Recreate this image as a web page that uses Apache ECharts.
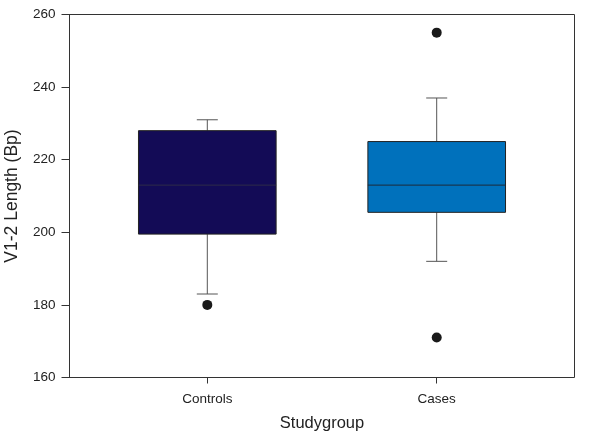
<!DOCTYPE html>
<html><head><meta charset="utf-8">
<script src="https://cdn.jsdelivr.net/npm/echarts@6/dist/echarts.min.js"></script>
<style>html,body{margin:0;padding:0;background:#fff}#c{width:600px;height:440px}</style>
</head><body><div id="c"></div>
<script>
var categories = ['Controls', 'Cases'];
// [low whisker, Q1, median, Q3, high whisker]
var controlsBox = [183, 199.5, 213, 228, 231];
var casesBox = [192, 205.5, 213, 225, 237];
var controlsOutliers = [180];
var casesOutliers = [255, 171];
var yTicks = [160, 180, 200, 220, 240, 260];
var boxColors = ['#130b56', '#0071bc'];
var medianColors = ['#2e2c48', '#1c2a3a'];

var boxes = [controlsBox, casesBox];
var boxData = boxes.map(function (b, i) { return [i].concat(b); });
var outlierData = [];
controlsOutliers.forEach(function (v) { outlierData.push([0, v]); });
casesOutliers.forEach(function (v) { outlierData.push([1, v]); });

var font = 'Liberation Sans, Arial, sans-serif';
var chart = echarts.init(document.getElementById('c'), null, {renderer: 'canvas'});
chart.setOption({
  animation: false,
  backgroundColor: '#fff',
  grid: [
    {left: 69.5, right: 25.5, top: 14.5, bottom: 62.5, show: true, borderColor: '#333', borderWidth: 1,
     backgroundColor: 'transparent', containLabel: false, outerBoundsMode: 'none'},
    {left: 92.6, right: 48.6, top: 14.5, bottom: 62.5, containLabel: false, outerBoundsMode: 'none'}
  ],
  xAxis: [
    {gridIndex: 0, type: 'value', min: 0, max: 1, show: false},
    {gridIndex: 1, type: 'category', data: categories, boundaryGap: true,
     axisLine: {show: false},
     axisTick: {show: true, alignWithLabel: true, length: 6, lineStyle: {color: '#333'}},
     axisLabel: {color: '#222', fontSize: 13.5, fontFamily: font, margin: 15},
     name: 'Studygroup', nameLocation: 'middle', nameGap: 37,
     nameTextStyle: {color: '#222', fontSize: 16.5, fontFamily: font},
     splitLine: {show: false}}
  ],
  yAxis: [
    {gridIndex: 0, type: 'value', min: yTicks[0], max: yTicks[yTicks.length - 1], interval: 20,
     axisLine: {show: true, lineStyle: {color: '#333'}},
     axisTick: {show: true, length: 8, lineStyle: {color: '#333'}},
     axisLabel: {color: '#222', fontSize: 13.5, fontFamily: font, margin: 14},
     splitLine: {show: false},
     name: 'V1-2 Length (Bp)', nameLocation: 'middle', nameGap: 48,
     nameTextStyle: {color: '#222', fontSize: 17.5, fontFamily: font}},
    {gridIndex: 1, type: 'value', min: yTicks[0], max: yTicks[yTicks.length - 1], show: false}
  ],
  series: [
    {
      type: 'custom', xAxisIndex: 1, yAxisIndex: 1, data: boxData,
      renderItem: function (params, api) {
        var ci = api.value(0);
        var band = api.size([1, 0])[0];
        var half = band * 0.3;
        var cap = 10.5;
        var pLow = api.coord([ci, api.value(1)]);
        var pQ1 = api.coord([ci, api.value(2)]);
        var pMed = api.coord([ci, api.value(3)]);
        var pQ3 = api.coord([ci, api.value(4)]);
        var pHigh = api.coord([ci, api.value(5)]);
        var x = pQ1[0];
        var wStyle = {stroke: '#555', lineWidth: 1, fill: null};
        return {
          type: 'group',
          children: [
            {type: 'line', shape: {x1: x, y1: pQ3[1], x2: x, y2: pHigh[1]}, style: wStyle},
            {type: 'line', shape: {x1: x - cap, y1: pHigh[1], x2: x + cap, y2: pHigh[1]}, style: wStyle},
            {type: 'line', shape: {x1: x, y1: pQ1[1], x2: x, y2: pLow[1]}, style: wStyle},
            {type: 'line', shape: {x1: x - cap, y1: pLow[1], x2: x + cap, y2: pLow[1]}, style: wStyle},
            {type: 'rect', shape: {x: x - half, y: pQ3[1], width: half * 2, height: pQ1[1] - pQ3[1]},
             style: {fill: boxColors[ci], stroke: '#222', lineWidth: 1}},
            {type: 'line', shape: {x1: x - half, y1: pMed[1], x2: x + half, y2: pMed[1]},
             style: {stroke: medianColors[ci], lineWidth: 1}}
          ]
        };
      }
    },
    {
      type: 'scatter', xAxisIndex: 1, yAxisIndex: 1, data: outlierData,
      symbol: 'circle', symbolSize: 10, itemStyle: {color: '#1a1a1a', opacity: 1}
    }
  ]
});
</script></body></html>
